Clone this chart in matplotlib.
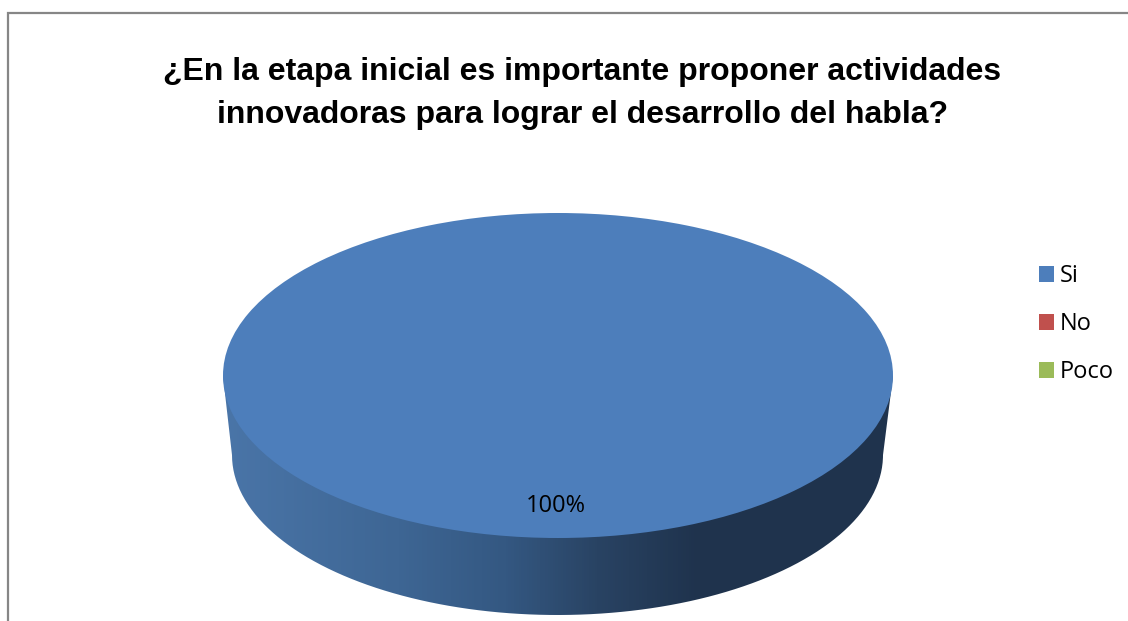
import numpy as np
import matplotlib
matplotlib.use('Agg')
from matplotlib import pyplot as plt
from matplotlib.colors import LinearSegmentedColormap
from matplotlib.patches import PathPatch
from matplotlib.path import Path

W, H = 1128, 621

categorias = ['Si', 'No', 'Poco']
valores = [100, 0, 0]
colores = ['#4d7ebb', '#c0504d', '#9bbb59']
titulo = '¿En la etapa inicial es importante proponer actividades\ninnovadoras para lograr el desarrollo del habla?'

fig = plt.figure(figsize=(W / 100, H / 100), dpi=100, facecolor='white')

# fondo en pixeles: marco y lateral del cilindro
fondo = fig.add_axes([0, 0, 1, 1])
fondo.set_xlim(0, W)
fondo.set_ylim(H, 0)
fondo.axis('off')
fondo.plot([8, 8, W], [H, 13, 13], color='#868686', lw=1.6, solid_joinstyle='miter')

t = np.linspace(np.pi, 0, 200)
x_base = 557.5 + 325.5 * np.cos(t)
y_base = 455 + 160 * np.sin(t)
contorno = np.column_stack([
    np.r_[223, x_base, 893],
    np.r_[376, y_base, 376],
])
lateral = PathPatch(Path(np.vstack([contorno, contorno[0]])), fc='none', ec='none')
fondo.add_patch(lateral)
degradado = LinearSegmentedColormap.from_list('lado', [
    (0.0, '#4a75a8'), (0.26, '#3e6694'), (0.42, '#345882'),
    (0.56, '#294363'), (0.71, '#1f334d'), (1.0, '#1f334d'),
])
img = fondo.imshow(np.linspace(0, 1, 670)[None, :], cmap=degradado, aspect='auto',
                   extent=[223, 893, 620, 370], zorder=1)
img.set_clip_path(lateral)
fondo.set_xlim(0, W)
fondo.set_ylim(H, 0)

# tapa de la torta
tapa = fig.add_axes([223 / W, 1 - 538 / H, 670 / W, 325 / H])
tapa.patch.set_alpha(0)
cunas, _, autotextos = tapa.pie(
    valores, colors=colores, startangle=90, radius=1, pctdistance=0.80,
    autopct=lambda p: f'{p:.0f}%' if p > 0 else '',
    textprops={'family': 'Open Sans', 'fontsize': 17, 'color': 'black'},
)
autotextos[0].set_x(-0.008)
tapa.set_aspect('auto')
tapa.set_xlim(-1, 1)
tapa.set_ylim(-1, 1)

fondo.text(582.5, 72, titulo.split('\n')[0], ha='center', va='center',
           family='Liberation Sans', weight='bold', fontsize=23.05, color='black')
fondo.text(582.5, 115, titulo.split('\n')[1], ha='center', va='center',
           family='Liberation Sans', weight='bold', fontsize=23.05, color='black')

fig.legend(cunas, categorias, loc='upper left', bbox_to_anchor=(1039 / W, 1 - 264.5 / H),
           frameon=False, handlelength=0.635, handleheight=0.635, handletextpad=0.25,
           labelspacing=1.008, borderpad=0, borderaxespad=0,
           prop={'family': 'Open Sans', 'size': 17})

fig.savefig('out.png', dpi=100)
